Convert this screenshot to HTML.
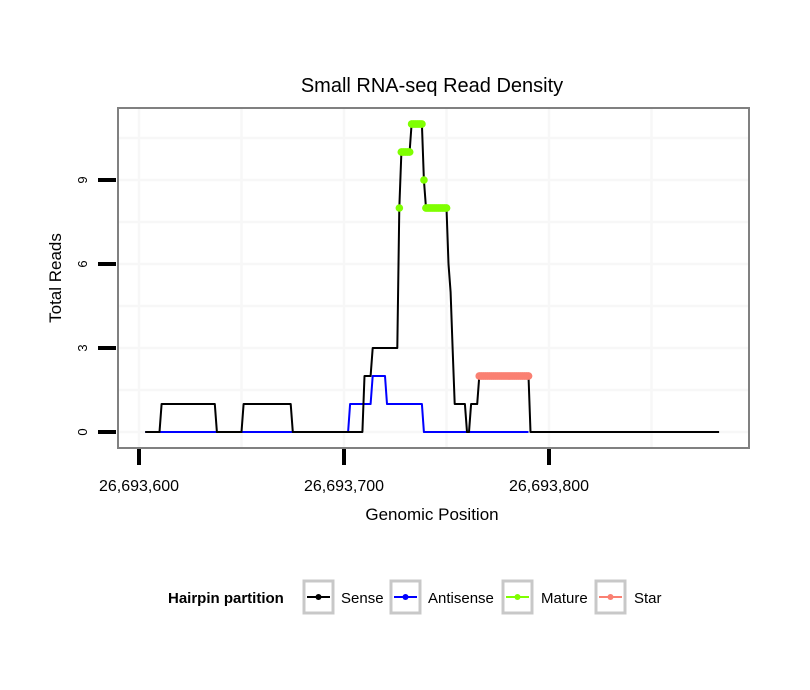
<!DOCTYPE html>
<html><head><meta charset="utf-8"><style>
html,body{margin:0;padding:0;background:#fff;}
svg{display:block;font-family:"Liberation Sans",Arial,sans-serif;}
</style></head><body>
<svg id="chart" width="810" height="690">
<rect width="810" height="690" fill="#fff"/>
<text x="432" y="92" font-size="20" text-anchor="middle">Small RNA-seq Read Density</text>
<g id="grid"></g>
<g id="series"></g>
<rect x="118" y="108" width="631" height="340" fill="none" stroke="#808080" stroke-width="2"/>
<g id="axes"></g>
<text x="432" y="520" font-size="17" text-anchor="middle">Genomic Position</text>
<text transform="translate(61,278) rotate(-90)" font-size="17" text-anchor="middle">Total Reads</text>
<g>
<text x="168" y="603" font-size="15" font-weight="bold">Hairpin partition</text>
<g><rect x="304" y="581" width="29" height="32" fill="#fff" stroke="#c8c8c8" stroke-width="3"/><line x1="307" x2="330" y1="597" y2="597" stroke="#000" stroke-width="2"/><circle cx="318.5" cy="597" r="3" fill="#000"/><text x="341" y="603" font-size="15">Sense</text></g>
<g><rect x="391" y="581" width="29" height="32" fill="#fff" stroke="#c8c8c8" stroke-width="3"/><line x1="394" x2="417" y1="597" y2="597" stroke="#0000ff" stroke-width="2"/><circle cx="405.5" cy="597" r="3" fill="#0000ff"/><text x="428" y="603" font-size="15">Antisense</text></g>
<g><rect x="503" y="581" width="29" height="32" fill="#fff" stroke="#c8c8c8" stroke-width="3"/><line x1="506" x2="529" y1="597" y2="597" stroke="#7fff00" stroke-width="2"/><circle cx="517.5" cy="597" r="3" fill="#7fff00"/><text x="541" y="603" font-size="15">Mature</text></g>
<g><rect x="596" y="581" width="29" height="32" fill="#fff" stroke="#c8c8c8" stroke-width="3"/><line x1="599" x2="622" y1="597" y2="597" stroke="#fa8072" stroke-width="2"/><circle cx="610.5" cy="597" r="3" fill="#fa8072"/><text x="634" y="603" font-size="15">Star</text></g>
</g>
</svg>
<script>
const xTicks = [26693600, 26693700, 26693800];
const xTickLabels = ["26,693,600", "26,693,700", "26,693,800"];
const yTicks = [0, 3, 6, 9];
const senseRuns = [[26693603,26693610,0],[26693611,26693637,1],[26693638,26693650,0],[26693651,26693674,1],[26693675,26693709,0],[26693710,26693713,2],[26693714,26693726,3],[26693727,26693727,8],[26693728,26693732,10],[26693733,26693738,11],[26693739,26693739,9],[26693740,26693750,8],[26693751,26693751,6],[26693752,26693752,5],[26693753,26693753,3],[26693754,26693759,1],[26693760,26693761,0],[26693762,26693765,1],[26693766,26693790,2],[26693791,26693883,0]];
const antisenseRuns = [[26693603,26693702,0],[26693703,26693713,1],[26693714,26693720,2],[26693721,26693738,1],[26693739,26693790,0]];
const matureRuns = [[26693727,26693727,8],[26693728,26693732,10],[26693733,26693738,11],[26693739,26693739,9],[26693740,26693750,8]];
const starRuns = [[26693766,26693790,2]];

const NS="http://www.w3.org/2000/svg";
const X0=26693600;
function sx(p){return 139+(p-X0)*2.05;}
function sy(v){return 432-28*v;}
function expand(runs){const pts=[];runs.forEach(r=>{for(let p=r[0];p<=r[1];p++)pts.push([p,r[2]]);});return pts;}
function mk(tag,attrs,parent){const e=document.createElementNS(NS,tag);for(const k in attrs)e.setAttribute(k,attrs[k]);parent.appendChild(e);return e;}

const grid=document.getElementById('grid');
mk('rect',{x:118,y:108,width:631,height:340,fill:'#fff'},grid);
[0,1.5,3,4.5,6,7.5,9,10.5].forEach(v=>{const l=mk('line',{x1:118,x2:749,y1:sy(v),y2:sy(v),stroke:'#f7f7f7','stroke-width':2.5},grid);

});
[26693600,26693650,26693700,26693750,26693800,26693850].forEach(p=>{const l=mk('line',{x1:sx(p),x2:sx(p),y1:108,y2:448,stroke:'#f7f7f7','stroke-width':2.5},grid);

});

const ser=document.getElementById('series');
function drawLine(runs,color,w,name){const pts=expand(runs);const d=pts.map((q,i)=>(i?'L':'M')+sx(q[0]).toFixed(1)+','+sy(q[1]).toFixed(1)).join('');
const e=mk('path',{d:d,fill:'none',stroke:color,'stroke-width':w,'stroke-linejoin':'round'},ser);

}
function drawDots(runs,color,name){runs.forEach(r=>{const g=mk('g',{},ser);


for(let p=r[0];p<=r[1];p++)mk('circle',{cx:sx(p),cy:sy(r[2]),r:3.8,fill:color},g);
if(r[1]>r[0])mk('line',{x1:sx(r[0]),x2:sx(r[1]),y1:sy(r[2]),y2:sy(r[2]),stroke:color,'stroke-width':7.6,'stroke-linecap':'round'},g);});}
drawLine(antisenseRuns,'#0000ff',2,'antisense-line');
drawLine(senseRuns,'#000',2,'sense-line');
drawDots(matureRuns,'#7fff00','mature-points');
drawDots(starRuns,'#fa8072','star-points');

const ax=document.getElementById('axes');
yTicks.forEach(v=>{const t=mk('line',{x1:98,x2:116,y1:sy(v),y2:sy(v),stroke:'#000','stroke-width':4},ax);


const l=mk('text',{transform:'translate('+87+','+sy(v)+') rotate(-90)','font-size':13,'text-anchor':'middle'},ax);
l.textContent=v;

});
xTicks.forEach((p,i)=>{const t=mk('line',{x1:sx(p),x2:sx(p),y1:449,y2:465,stroke:'#000','stroke-width':4},ax);


const l=mk('text',{x:sx(p),y:491,'font-size':16,'text-anchor':'middle'},ax);
l.textContent=xTickLabels[i];

});
</script>
</body></html>
